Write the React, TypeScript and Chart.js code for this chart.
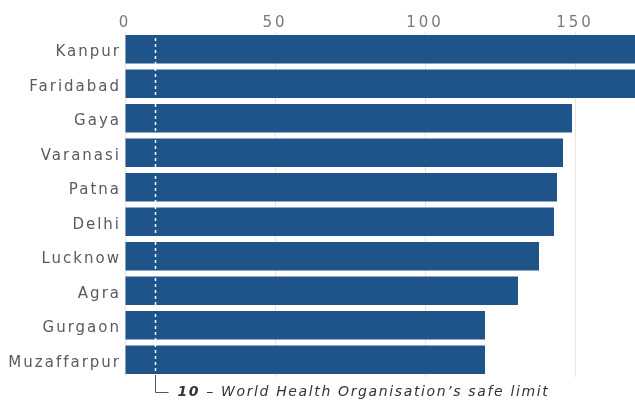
import { useEffect, useRef } from 'react';
import { Chart, registerables } from 'chart.js';

Chart.register(...registerables);

// Annual mean PM2.5 concentration (µg/m³) by city
const cities = ['Kanpur', 'Faridabad', 'Gaya', 'Varanasi', 'Patna', 'Delhi', 'Lucknow', 'Agra', 'Gurgaon', 'Muzaffarpur'];
const pm25 = [173, 172, 149, 146, 144, 143, 138, 131, 120, 120];
const xTicks = [0, 50, 100, 150];
const xMax = 170;
const safeLimit = 10;
const safeLimitNote = ' \u2013 World Health Organisation\u2019s safe limit';

const BAR_COLOR = '#1f548b';
const GRID_COLOR = '#efe3dd';
const LABEL_COLOR = '#5b5b5b';
const FONT = "'DejaVu Sans', sans-serif";
const NOTE_WIDTH = 372;

// Wider tracking for the value-axis numbers
const spacingPlugin = {
  id: 'letterSpacing',
  beforeDraw(chart: any) {
    chart.ctx.letterSpacing = '3px';
  },
};

// City names, right-aligned against the zero line
const cityLabelsPlugin = {
  id: 'cityLabels',
  afterDraw(chart: any) {
    const { ctx, scales, chartArea } = chart;
    ctx.save();
    ctx.letterSpacing = '2px';
    ctx.font = `15px ${FONT}`;
    ctx.fillStyle = LABEL_COLOR;
    ctx.textAlign = 'right';
    ctx.textBaseline = 'alphabetic';
    cities.forEach((name, i) => {
      const y = scales.y.getPixelForValue(i);
      ctx.fillText(name, chartArea.left - 4, y + 7);
    });
    ctx.restore();
  },
};

const safeLimitPlugin = {
  id: 'safeLimit',
  afterDatasetsDraw(chart: any) {
    const { ctx, chartArea, scales } = chart;
    const x = Math.round(scales.x.getPixelForValue(safeLimit)) + 0.5;
    ctx.save();
    ctx.strokeStyle = '#ffffff';
    ctx.lineWidth = 1.5;
    ctx.setLineDash([3, 3]);
    ctx.beginPath();
    ctx.moveTo(x, chartArea.top);
    ctx.lineTo(x, chartArea.bottom);
    ctx.stroke();
    ctx.restore();
  },
  afterDraw(chart: any) {
    const { ctx, chartArea, scales } = chart;
    const x = Math.round(scales.x.getPixelForValue(safeLimit)) + 0.5;
    const yLine = chartArea.bottom + 15.5;
    ctx.save();
    ctx.strokeStyle = '#555555';
    ctx.lineWidth = 1;
    ctx.setLineDash([]);
    ctx.beginPath();
    ctx.moveTo(x, chartArea.bottom - 2);
    ctx.lineTo(x, yLine);
    ctx.lineTo(x + 13, yLine);
    ctx.stroke();

    const num = String(safeLimit);
    const boldFont = `italic bold 14px ${FONT}`;
    const plainFont = `italic 14px ${FONT}`;
    ctx.letterSpacing = '0px';
    ctx.font = boldFont;
    const w0 = ctx.measureText(num).width;
    ctx.font = plainFont;
    const w1 = ctx.measureText(safeLimitNote).width;
    const chars = num.length + safeLimitNote.length;
    const spacing = Math.max(0, (NOTE_WIDTH - w0 - w1) / chars);

    ctx.letterSpacing = `${spacing.toFixed(2)}px`;
    ctx.textBaseline = 'alphabetic';
    ctx.textAlign = 'left';
    ctx.fillStyle = '#333333';
    const tx = x + 22;
    const ty = chartArea.bottom + 19;
    ctx.font = boldFont;
    ctx.fillText(num, tx, ty);
    const w = ctx.measureText(num).width;
    ctx.font = plainFont;
    ctx.fillText(safeLimitNote, tx + w, ty);
    ctx.restore();
  },
};

export default function App() {
  const canvasRef = useRef<HTMLCanvasElement | null>(null);

  useEffect(() => {
    document.body.style.margin = '0';
    const canvas = canvasRef.current;
    if (!canvas) return;
    const chart = new Chart(canvas, {
      type: 'bar',
      data: {
        labels: cities,
        datasets: [
          {
            data: pm25,
            backgroundColor: BAR_COLOR,
            borderWidth: 0,
            barPercentage: 0.83,
            categoryPercentage: 1,
          },
        ],
      },
      options: {
        indexAxis: 'y',
        animation: false,
        responsive: true,
        maintainAspectRatio: false,
        layout: { padding: { top: 0, right: 0, bottom: 25, left: 0 } },
        plugins: {
          legend: { display: false },
          tooltip: { enabled: false },
        },
        scales: {
          x: {
            position: 'top',
            min: 0,
            max: xMax,
            afterBuildTicks(scale: any) {
              scale.ticks = xTicks.map((v) => ({ value: v }));
            },
            afterFit(scale: any) {
              scale.height = 32;
            },
            grid: { color: GRID_COLOR, lineWidth: 1, drawTicks: false },
            border: { display: false },
            ticks: {
              padding: 0,
              color: '#7a7a7a',
              font: { family: FONT, size: 15 },
            },
          },
          y: {
            afterFit(scale: any) {
              scale.width = 125;
            },
            grid: { display: false, drawTicks: false },
            border: { display: false },
            ticks: { display: false },
          },
        },
      },
      plugins: [spacingPlugin, cityLabelsPlugin, safeLimitPlugin],
    });
    return () => chart.destroy();
  }, []);

  return (
    <div style={{ position: 'relative', width: 635, height: 402 }}>
      <canvas ref={canvasRef} />
    </div>
  );
}
